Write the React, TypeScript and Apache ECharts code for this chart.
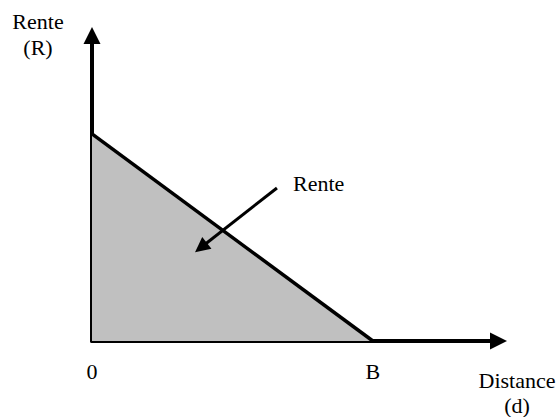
import React, { useEffect, useRef } from "react";
import * as echarts from "echarts";

// Rent gradient: rent R at distance 0, falling to 0 at distance B
const distances = [0, 69.1];
const rents = [67.8, 0];
const xTickValues = [0, 69.1];
const xTickLabels = ["0", "B"];
// Pointer arrow toward the rent area: [from, to]
const pointerFrom = [45.5, 50.1];
const pointerTo = [26.8, 30.6];
const pointerLabel = "Rente";
const yAxisTitle = ["Rente", "(R)"];
const xAxisTitle = ["Distance", "(d)"];

const FAMILY = "'Liberation Serif', 'Times New Roman', serif";
const SIZE = 22;
const FONT = `${SIZE}px ${FAMILY}`;

export default function App() {
  const ref = useRef<HTMLDivElement>(null);
  useEffect(() => {
    document.body.style.margin = "0";
    const chart = echarts.init(ref.current!, null, { renderer: "svg" });
    const axisLine = {
      show: true,
      onZero: false,
      symbol: ["none", "triangle"],
      symbolSize: [17, 17],
      lineStyle: { color: "#000", width: 4 },
    };
    const txt = (text: string, x: number, y: number, align = "center") => ({
      type: "text",
      x,
      y,
      style: { text, font: FONT, fill: "#000", textAlign: align, textVerticalAlign: "middle" },
    });
    chart.setOption({
      animation: false,
      backgroundColor: "#fff",
      grid: { left: 92, right: 59.5, top: 35.5, bottom: 76, containLabel: false },
      xAxis: {
        type: "value",
        min: 0,
        max: 100,
        axisLine,
        axisTick: { show: false },
        splitLine: { show: false },
        axisLabel: {
          customValues: xTickValues,
          formatter: (v: number) => {
            const i = xTickValues.findIndex((t) => Math.abs(t - v) < 1e-6);
            return i >= 0 ? xTickLabels[i] : "";
          },
          margin: 19,
          fontFamily: FAMILY,
          fontSize: SIZE,
          color: "#000",
        },
      },
      yAxis: {
        type: "value",
        min: 0,
        max: 100,
        axisLine,
        axisTick: { show: false },
        splitLine: { show: false },
        axisLabel: { show: false },
      },
      series: [
        {
          type: "line",
          data: distances.map((d, i) => [d, rents[i]]),
          symbol: "none",
          lineStyle: { color: "#000", width: 3.5 },
          areaStyle: { color: "#c0c0c0", opacity: 1 },
          markLine: {
            silent: true,
            symbol: ["none", "triangle"],
            symbolSize: [15, 15],
            lineStyle: { color: "#000", width: 3, type: "solid" },
            label: { show: false },
            data: [[{ coord: pointerFrom }, { coord: pointerTo }]],
          },
          z: 3,
        },
      ],
      graphic: [
        txt(yAxisTitle[0], 38, 21),
        txt(yAxisTitle[1], 38, 47),
        txt(xAxisTitle[0], 517, 380),
        txt(xAxisTitle[1], 517, 405),
        txt(pointerLabel, 293, 183, "left"),
      ],
    });
    return () => chart.dispose();
  }, []);
  return <div ref={ref} style={{ width: 558, height: 417 }} />;
}
